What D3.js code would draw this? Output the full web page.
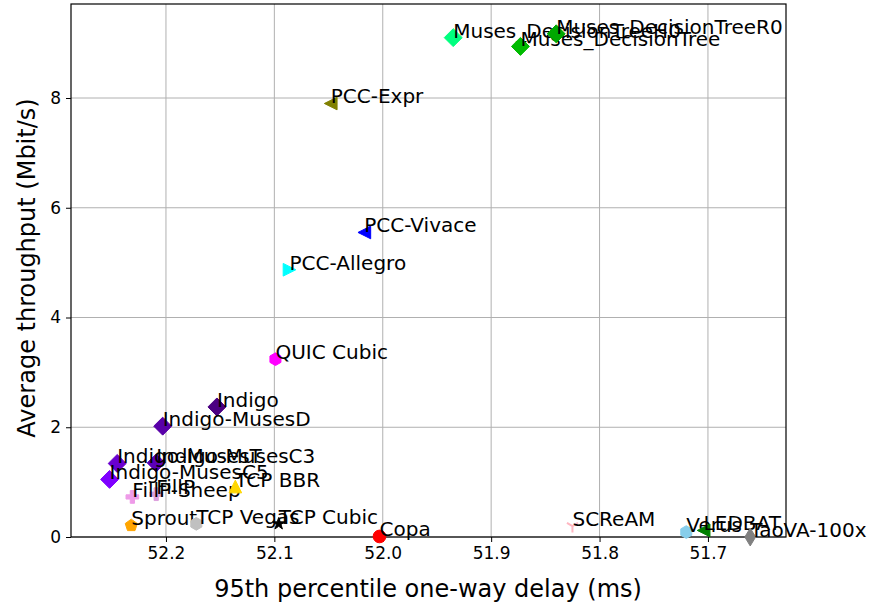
<!DOCTYPE html>
<html>
<head>
<meta charset="utf-8">
<script src="https://cdn.jsdelivr.net/npm/d3@7"></script>
<style>
  html, body { margin: 0; padding: 0; background: #fff; }
  svg { display: block; font-family: "DejaVu Sans", sans-serif; }
</style>
</head>
<body>
<svg id="chart" width="877" height="607"></svg>
<script>
// Congestion-control schemes: delay (ms, 95th pct) vs average throughput (Mbit/s)
const schemes = [
  "Muses_DecisionTreeH0", "Muses_DecisionTree", "Muses_DecisionTreeR0",
  "PCC-Expr", "PCC-Vivace", "PCC-Allegro", "QUIC Cubic",
  "Indigo", "Indigo-MusesD", "Indigo-MusesC3", "Indigo-MusesT", "Indigo-MusesC5",
  "FillP", "FillP-Sheep", "TCP BBR", "Sprout", "TCP Vegas", "TCP Cubic",
  "Copa", "SCReAM", "Verus", "LEDBAT", "TaoVA-100x"
];
const delays = [
  51.935, 51.873, 51.840,
  52.048, 52.017, 52.086, 52.099,
  52.153, 52.203, 52.209, 52.245, 52.252,
  52.209, 52.231, 52.136, 52.232, 52.172, 52.096,
  52.003, 51.825, 51.720, 51.704, 51.661
];
const throughputs = [
  9.10, 8.94, 9.17,
  7.90, 5.55, 4.87, 3.24,
  2.37, 2.02, 1.35, 1.34, 1.05,
  0.78, 0.73, 0.92, 0.21, 0.24, 0.24,
  0.01, 0.20, 0.09, 0.12, 0.00
];
const markers = [
  "D", "D", "D",
  "<", "<", ">", "h",
  "D", "D", "D", "D", "D",
  "P", "P", "^", "p", "h", "*",
  "o", "1", "h", "<", "d"
];
const colors = [
  "#00ff7f", "#00bb00", "#00a800",
  "#808000", "#0000ff", "#00ffff", "#ff00ff",
  "#4b0082", "#5800a8", "#5c00b8", "#6a00d0", "#7f00ff",
  "#dda0dd", "#ee9be8", "#ffd700", "#ffa500", "#c0c0c0", "#000000",
  "#ff0000", "#ffb6c1", "#87ceeb", "#008000", "#808080"
];

const xTicks = [52.2, 52.1, 52.0, 51.9, 51.8, 51.7];
const yTicks = [0, 2, 4, 6, 8];
const xDomain = [52.2876, 51.628];
const yDomain = [0, 9.713];

const svg = d3.select("#chart");
const margin = { left: 71, right: 91, top: 4, bottom: 70 };
const W = 877, H = 607;
const x = d3.scaleLinear().domain(xDomain).range([margin.left, W - margin.right]);
const y = d3.scaleLinear().domain(yDomain).range([H - margin.bottom, margin.top]);

// grid
const grid = svg.append("g");
grid.selectAll(".gx").data(xTicks).join("line")
  .attr("x1", d => x(d)).attr("x2", d => x(d))
  .attr("y1", y.range()[0]).attr("y2", y.range()[1])
  .attr("stroke", "#b0b0b0").attr("stroke-width", 1);
grid.selectAll(".gy").data(yTicks).join("line")
  .attr("y1", d => y(d)).attr("y2", d => y(d))
  .attr("x1", x.range()[0]).attr("x2", x.range()[1])
  .attr("stroke", "#b0b0b0").attr("stroke-width", 1);

// axes
const xAxis = svg.append("g").attr("transform", `translate(0,${y(0)})`)
  .call(d3.axisBottom(x).tickValues(xTicks).tickFormat(d3.format(".1f")).tickSizeOuter(0).tickSize(5).tickPadding(5));
const yAxis = svg.append("g").attr("transform", `translate(${margin.left},0)`)
  .call(d3.axisLeft(y).tickValues(yTicks).tickFormat(d3.format("d")).tickSizeOuter(0).tickSize(5).tickPadding(5));
[xAxis, yAxis].forEach(a => {
  a.select(".domain").remove();
  a.selectAll("text").attr("font-size", 17).attr("font-family", "DejaVu Sans").attr("fill", "#000");
  a.selectAll("line").attr("stroke", "#000");
});

// frame
svg.append("rect")
  .attr("x", x.range()[0]).attr("y", y.range()[1])
  .attr("width", x.range()[1] - x.range()[0]).attr("height", y.range()[0] - y.range()[1])
  .attr("fill", "none").attr("stroke", "#000").attr("stroke-width", 1.2);

// axis titles
svg.append("text").attr("x", 428).attr("y", 597)
  .attr("text-anchor", "middle").attr("font-size", 24).text("95th percentile one-way delay (ms)");
svg.append("text").attr("transform", `translate(35,${268}) rotate(-90)`)
  .attr("text-anchor", "middle").attr("font-size", 24).text("Average throughput (Mbit/s)");

// marker shapes, size m = nominal marker diameter in px
const m = 12.7;
function markerPath(kind) {
  const r = m / 2;
  const poly = pts => "M" + pts.map(p => p.join(",")).join("L") + "Z";
  switch (kind) {
    case "D": return poly([[0, -r * 1.414], [r * 1.414, 0], [0, r * 1.414], [-r * 1.414, 0]]);
    case "d": return poly([[0, -r * 1.414], [r * 0.85, 0], [0, r * 1.414], [-r * 0.85, 0]]);
    case "<": return poly([[-r, 0], [r, -r], [r, r]]);
    case ">": return poly([[r, 0], [-r, -r], [-r, r]]);
    case "^": return poly([[0, -r], [r, r], [-r, r]]);
    case "o": return d3.symbol(d3.symbolCircle, Math.PI * r * r)();
    case "h": return poly(d3.range(6).map(i => {
      const a = Math.PI / 2 + i * Math.PI / 3;
      return [r * Math.cos(a), -r * Math.sin(a)];
    }));
    case "p": return poly(d3.range(5).map(i => {
      const a = Math.PI / 2 + i * 2 * Math.PI / 5;
      return [r * Math.cos(a), -r * Math.sin(a)];
    }));
    case "*": return poly(d3.range(10).map(i => {
      const a = Math.PI / 2 + i * Math.PI / 5;
      const rr = i % 2 === 0 ? r : r * 0.381;
      return [rr * Math.cos(a), -rr * Math.sin(a)];
    }));
    case "P": {
      const t = r / 3;
      return poly([[-t, -r], [t, -r], [t, -t], [r, -t], [r, t], [t, t], [t, r], [-t, r], [-t, t], [-r, t], [-r, -t], [-t, -t]]);
    }
    case "1": return `M0,0L0,${r}M0,0L${-r * 0.866},${-r * 0.5}M0,0L${r * 0.866},${-r * 0.5}`;
  }
}

const data = schemes.map((name, i) => ({
  name, x: delays[i], y: throughputs[i], marker: markers[i], color: colors[i]
}));

const pts = svg.append("g");
data.forEach(d => {
  const g = pts.append("g");
  const isLine = d.marker === "1";
  g.append("path")
    .attr("transform", `translate(${x(d.x)},${y(d.y)})`)
    .attr("d", markerPath(d.marker))
    .attr("fill", isLine ? "none" : d.color)
    .attr("stroke", d.color)
    .attr("stroke-width", isLine ? 2 : 1);
  g.append("text")
    .attr("x", x(d.x)).attr("y", y(d.y))
    .attr("font-size", 20).attr("fill", "#000")
    .text(d.name);
});
</script>
</body>
</html>
